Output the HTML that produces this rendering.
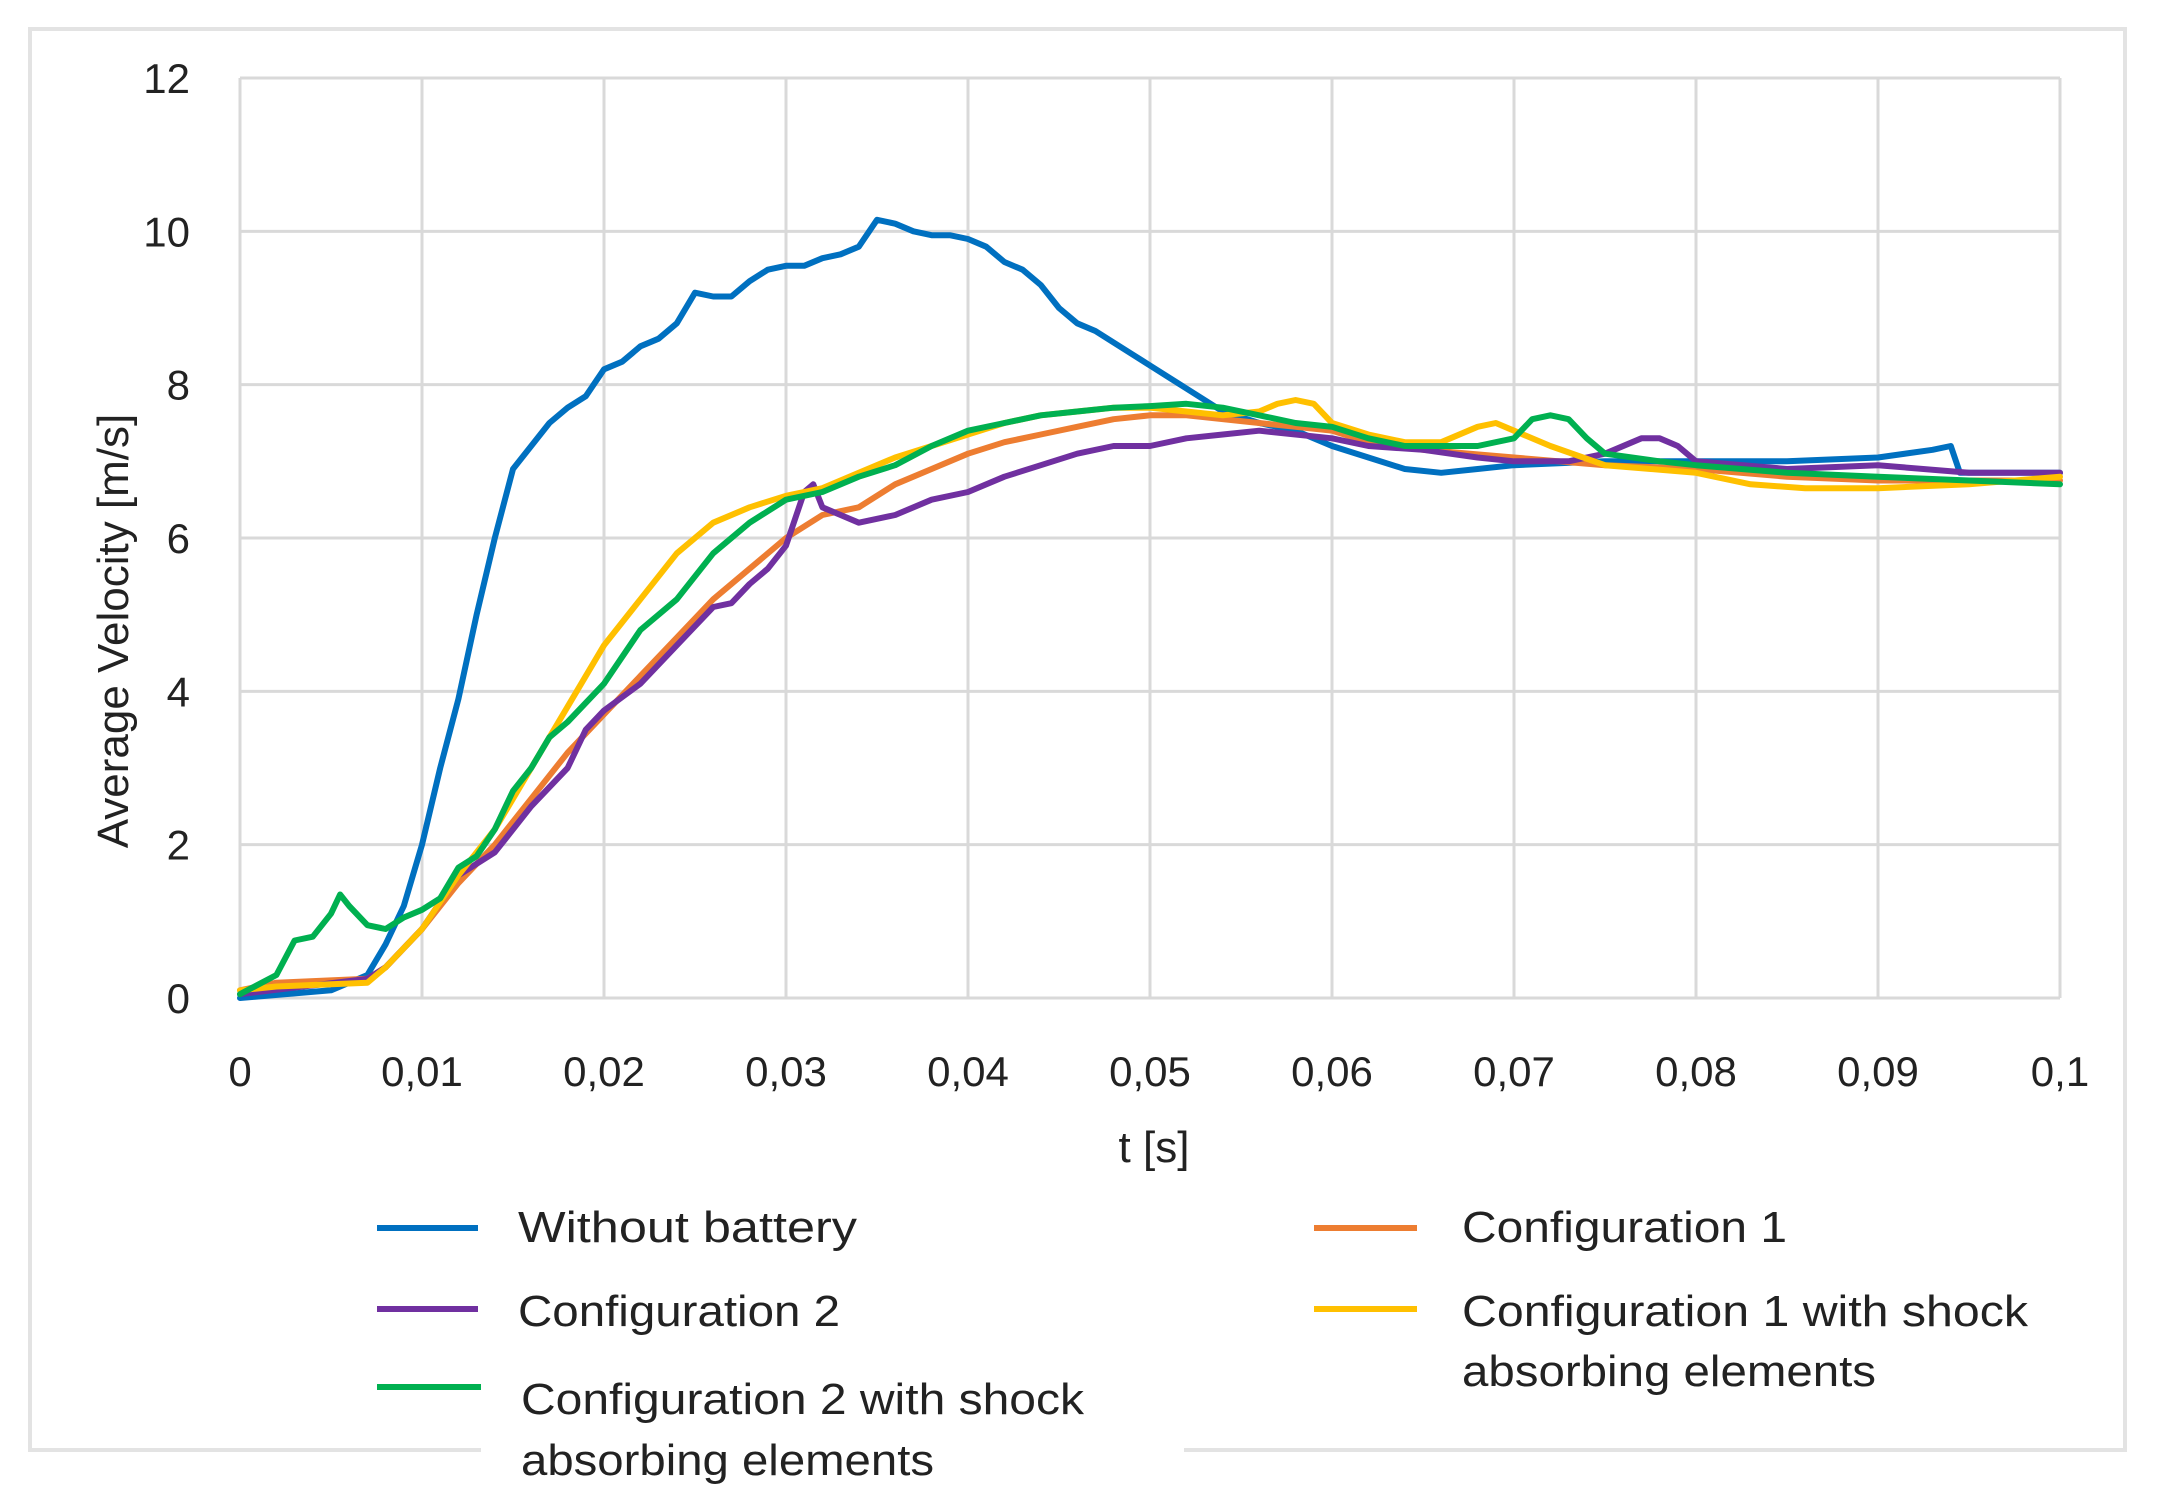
<!DOCTYPE html>
<html><head><meta charset="utf-8"><style>
html,body{margin:0;padding:0;background:#fff}
svg{display:block}
text{font-family:"Liberation Sans",sans-serif;fill:#222}
</style></head><body>
<svg id="chart" width="2164" height="1504" viewBox="0 0 2164 1504">
<rect x="30" y="29" width="2095" height="1421" fill="#fff" stroke="#e3e3e3" stroke-width="4"/>
<rect x="481" y="1440" width="703" height="20" fill="#fff"/>
<g id="grid"></g>
<g id="series"></g>
<g id="ticks"></g>
<text x="1154" y="1162" font-size="44" text-anchor="middle">t [s]</text>
<text transform="translate(128,631) rotate(-90)" font-size="44" text-anchor="middle">Average Velocity  [m/s]</text>
<g>
<g>
<line x1="377" y1="1228" x2="478" y2="1228" stroke="#0070C0" stroke-width="6"/>
<text x="518" y="1242" font-size="44" textLength="339" lengthAdjust="spacingAndGlyphs">Without battery</text></g>
<g>
<line x1="377" y1="1309" x2="478" y2="1309" stroke="#7030A0" stroke-width="6"/>
<text x="518" y="1326" font-size="44" textLength="322" lengthAdjust="spacingAndGlyphs">Configuration 2</text></g>
<g>
<line x1="377" y1="1387" x2="481" y2="1387" stroke="#00B050" stroke-width="6"/>
<text x="521" y="1414" font-size="44" textLength="563" lengthAdjust="spacingAndGlyphs">Configuration 2 with shock</text>
<text x="521" y="1475" font-size="44" textLength="413" lengthAdjust="spacingAndGlyphs">absorbing elements</text></g>
<g>
<line x1="1314" y1="1228" x2="1417" y2="1228" stroke="#ED7D31" stroke-width="6"/>
<text x="1462" y="1242" font-size="44" textLength="325" lengthAdjust="spacingAndGlyphs">Configuration 1</text></g>
<g>
<line x1="1314" y1="1309" x2="1417" y2="1309" stroke="#FFC000" stroke-width="6"/>
<text x="1462" y="1326" font-size="44" textLength="566" lengthAdjust="spacingAndGlyphs">Configuration 1 with shock</text>
<text x="1462" y="1386" font-size="44" textLength="414" lengthAdjust="spacingAndGlyphs">absorbing elements</text></g>
</g>
</svg>
<script>
const xTicks=[0,0.01,0.02,0.03,0.04,0.05,0.06,0.07,0.08,0.09,0.1];
const xTickLabels=["0","0,01","0,02","0,03","0,04","0,05","0,06","0,07","0,08","0,09","0,1"];
const yTicks=[0,2,4,6,8,10,12];
const blueT=[0,0.005,0.007,0.008,0.009,0.010,0.011,0.012,0.013,0.014,0.015,0.016,0.017,0.018,0.019,0.020,0.021,0.022,0.023,0.024,0.025,0.026,0.027,0.028,0.029,0.030,0.031,0.032,0.033,0.034,0.035,0.036,0.037,0.038,0.039,0.040,0.041,0.042,0.043,0.044,0.045,0.046,0.047,0.048,0.049,0.050,0.052,0.054,0.056,0.058,0.060,0.062,0.064,0.066,0.068,0.070,0.075,0.080,0.085,0.090,0.093,0.094,0.0945,0.1];
const blueV=[0,0.1,0.3,0.7,1.2,2.0,3.0,3.9,5.0,6.0,6.9,7.2,7.5,7.7,7.85,8.2,8.3,8.5,8.6,8.8,9.2,9.15,9.15,9.35,9.5,9.55,9.55,9.65,9.7,9.8,10.15,10.1,10.0,9.95,9.95,9.9,9.8,9.6,9.5,9.3,9.0,8.8,8.7,8.55,8.4,8.25,7.95,7.65,7.5,7.4,7.2,7.05,6.9,6.85,6.9,6.95,7.0,7.0,7.0,7.05,7.15,7.2,6.85,6.85];
const orangeT=[0,0.002,0.007,0.008,0.010,0.012,0.014,0.016,0.018,0.020,0.022,0.024,0.026,0.028,0.030,0.032,0.034,0.036,0.038,0.040,0.042,0.044,0.046,0.048,0.050,0.052,0.054,0.056,0.058,0.060,0.062,0.065,0.070,0.075,0.080,0.085,0.090,0.095,0.1];
const orangeV=[0.1,0.2,0.25,0.4,0.9,1.5,2.0,2.6,3.2,3.7,4.2,4.7,5.2,5.6,6.0,6.3,6.4,6.7,6.9,7.1,7.25,7.35,7.45,7.55,7.6,7.6,7.55,7.5,7.45,7.4,7.25,7.15,7.05,6.95,6.9,6.8,6.75,6.75,6.75];
const purpleT=[0,0.007,0.008,0.010,0.012,0.014,0.016,0.018,0.019,0.020,0.022,0.024,0.026,0.027,0.028,0.029,0.030,0.031,0.0315,0.032,0.033,0.034,0.036,0.038,0.040,0.042,0.044,0.046,0.048,0.050,0.052,0.054,0.056,0.058,0.060,0.062,0.065,0.068,0.070,0.073,0.075,0.077,0.078,0.079,0.080,0.085,0.090,0.095,0.1];
const purpleV=[0.05,0.25,0.4,0.9,1.6,1.9,2.5,3.0,3.5,3.75,4.1,4.6,5.1,5.15,5.4,5.6,5.9,6.6,6.7,6.4,6.3,6.2,6.3,6.5,6.6,6.8,6.95,7.1,7.2,7.2,7.3,7.35,7.4,7.35,7.3,7.2,7.15,7.05,7.0,7.0,7.1,7.3,7.3,7.2,7.0,6.9,6.95,6.85,6.85];
const yellowT=[0,0.002,0.007,0.008,0.010,0.012,0.014,0.016,0.018,0.020,0.022,0.024,0.026,0.028,0.030,0.032,0.034,0.036,0.038,0.040,0.042,0.044,0.046,0.048,0.050,0.052,0.054,0.056,0.057,0.058,0.059,0.060,0.062,0.064,0.066,0.068,0.069,0.070,0.072,0.075,0.080,0.083,0.086,0.090,0.095,0.1];
const yellowV=[0.1,0.15,0.2,0.4,0.9,1.6,2.2,3.0,3.8,4.6,5.2,5.8,6.2,6.4,6.55,6.65,6.85,7.05,7.2,7.35,7.5,7.6,7.65,7.7,7.7,7.65,7.6,7.65,7.75,7.8,7.75,7.5,7.35,7.25,7.25,7.45,7.5,7.4,7.2,6.95,6.85,6.7,6.65,6.65,6.7,6.8];
const greenT=[0,0.002,0.003,0.004,0.005,0.0055,0.006,0.007,0.008,0.009,0.010,0.011,0.012,0.013,0.014,0.015,0.016,0.017,0.018,0.020,0.022,0.024,0.026,0.028,0.030,0.032,0.034,0.036,0.038,0.040,0.042,0.044,0.046,0.048,0.050,0.052,0.054,0.056,0.058,0.060,0.062,0.064,0.066,0.068,0.070,0.071,0.072,0.073,0.074,0.075,0.078,0.080,0.085,0.090,0.095,0.1];
const greenV=[0.05,0.3,0.75,0.8,1.1,1.35,1.2,0.95,0.9,1.05,1.15,1.3,1.7,1.85,2.2,2.7,3.0,3.4,3.6,4.1,4.8,5.2,5.8,6.2,6.5,6.6,6.8,6.95,7.2,7.4,7.5,7.6,7.65,7.7,7.72,7.75,7.7,7.6,7.5,7.45,7.3,7.2,7.2,7.2,7.3,7.55,7.6,7.55,7.3,7.1,7.0,6.95,6.85,6.8,6.75,6.7];

const NS='http://www.w3.org/2000/svg';
const X0=240,X1=2060,Y0=998,Y1=78;
function xs(t){return X0+(t/0.1)*(X1-X0);}
function ys(v){return Y0-(v/12)*(Y0-Y1);}
const grid=document.getElementById('grid');
yTicks.forEach(v=>{const l=document.createElementNS(NS,'line');
l.setAttribute('x1',X0);l.setAttribute('x2',X1);l.setAttribute('y1',ys(v));l.setAttribute('y2',ys(v));
l.setAttribute('stroke','#d9d9d9');l.setAttribute('stroke-width','3');


grid.appendChild(l);});
xTicks.forEach(t=>{const l=document.createElementNS(NS,'line');
l.setAttribute('x1',xs(t));l.setAttribute('x2',xs(t));l.setAttribute('y1',Y1);l.setAttribute('y2',Y0);
l.setAttribute('stroke','#d9d9d9');l.setAttribute('stroke-width','3');


grid.appendChild(l);});
const tk=document.getElementById('ticks');
yTicks.forEach(v=>{const e=document.createElementNS(NS,'text');
e.setAttribute('x',190);e.setAttribute('y',ys(v)+15);e.setAttribute('font-size','42');e.setAttribute('text-anchor','end');
e.textContent=String(v);


tk.appendChild(e);});
xTicks.forEach((t,i)=>{const e=document.createElementNS(NS,'text');
e.setAttribute('x',xs(t));e.setAttribute('y',1086);e.setAttribute('font-size','42');e.setAttribute('text-anchor','middle');
e.textContent=xTickLabels[i];


tk.appendChild(e);});
const sg=document.getElementById('series');
function draw(T,V,color,name){const p=document.createElementNS(NS,'polyline');
p.setAttribute('points',T.map((t,i)=>xs(t).toFixed(1)+','+ys(V[i]).toFixed(1)).join(' '));
p.setAttribute('fill','none');p.setAttribute('stroke',color);p.setAttribute('stroke-width','6');
p.setAttribute('stroke-linejoin','round');p.setAttribute('stroke-linecap','round');


sg.appendChild(p);}
draw(blueT,blueV,'#0070C0','line-without-battery');
draw(orangeT,orangeV,'#ED7D31','line-configuration-1');
draw(purpleT,purpleV,'#7030A0','line-configuration-2');
draw(yellowT,yellowV,'#FFC000','line-configuration-1-shock');
draw(greenT,greenV,'#00B050','line-configuration-2-shock');
</script>
</body></html>
